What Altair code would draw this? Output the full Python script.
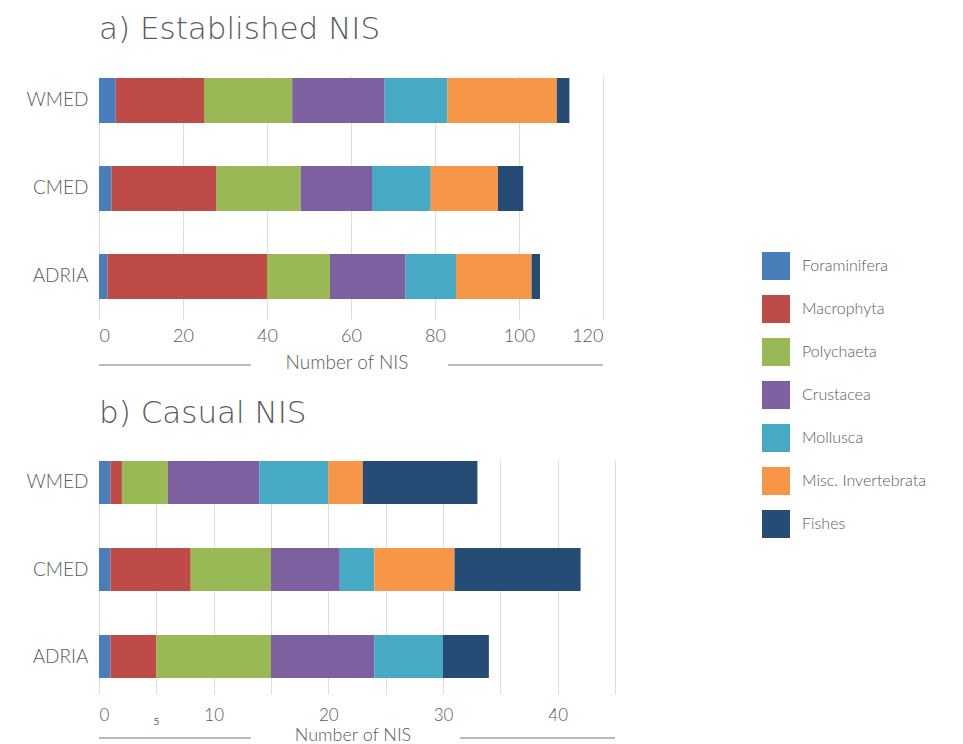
import altair as alt
import pandas as pd

regions = ["WMED", "CMED", "ADRIA"]
groups = ["Foraminifera", "Macrophyta", "Polychaeta", "Crustacea",
          "Mollusca", "Misc. Invertebrata", "Fishes"]
colors = ["#4a7ebb", "#be4b48", "#98b954", "#7d60a0", "#46aac5", "#f79646", "#254c75"]

# a) Established NIS (values per group, in the order of `groups`)
est_wmed = [4, 21, 21, 22, 15, 26, 3]
est_cmed = [3, 25, 20, 17, 14, 16, 6]
est_adria = [2, 38, 15, 18, 12, 18, 2]

# b) Casual NIS
cas_wmed = [1, 1, 4, 8, 6, 3, 10]
cas_cmed = [1, 7, 7, 6, 3, 7, 11]
cas_adria = [1, 4, 10, 9, 6, 0, 4]

est_ticks = [0, 20, 40, 60, 80, 100, 120]
cas_ticks = [0, 5, 10, 15, 20, 25, 30, 35, 40, 45]

FONT = "Lato"
TFONT = "DejaVu Sans"
GREY = "#5a5a5a"


def make_df(series):
    rows = []
    for reg, vals in series.items():
        for i, (g, v) in enumerate(zip(groups, vals)):
            rows.append({"region": reg, "group": g, "value": v, "order": i})
    return pd.DataFrame(rows)


def panel(df, title, xmax, ticks, label_expr, width, height,
          pi, po, align, label_pad, label_size, title_gap, title_size, extra=None):
    bars = alt.Chart(df).mark_bar().encode(
        x=alt.X("value:Q", stack="zero",
                scale=alt.Scale(domain=[0, xmax], nice=False, zero=True),
                axis=alt.Axis(values=ticks, labelExpr=label_expr, title=None,
                              domain=False, ticks=True, tickColor="#dddddd",
                              tickSize=6, gridColor="#dddddd", grid=True,
                              labelFont=FONT, labelFontSize=label_size,
                              labelFontWeight=300,
                              labelColor=GREY, labelPadding=label_pad)),
        y=alt.Y("region:N", sort=regions, title=None,
                scale=alt.Scale(paddingInner=pi, paddingOuter=po, align=align),
                axis=alt.Axis(domain=False, ticks=False, grid=False,
                              labelFont=FONT, labelFontSize=19, labelFontWeight=300,
                              labelColor=GREY, labelPadding=11)),
        color=alt.Color("group:N", sort=groups,
                        scale=alt.Scale(domain=groups, range=colors),
                        legend=alt.Legend(title=None)),
        order=alt.Order("order:Q"),
    )
    one = pd.DataFrame({"t": ["Number of NIS"]})
    ytitle = height + title_gap
    txt = alt.Chart(one).mark_text(font=FONT, fontSize=title_size, fontWeight=300,
                                   color=GREY, baseline="middle").encode(
        x=alt.value(width / 2 - 4), y=alt.value(ytitle), text="t:N")
    left_line = alt.Chart(one).mark_rule(color="#777777", strokeWidth=1).encode(
        x=alt.value(0), x2=alt.value(152), y=alt.value(ytitle + 2))
    right_line = alt.Chart(one).mark_rule(color="#777777", strokeWidth=1).encode(
        x=alt.value(width - 155), x2=alt.value(width), y=alt.value(ytitle + 2))
    layers = [bars, txt, left_line, right_line]
    if extra is not None:
        layers.append(extra)
    return alt.layer(*layers).properties(
        width=width, height=height,
        title=alt.TitleParams(title, anchor="start", frame="group", font=TFONT,
                              fontSize=31, fontWeight=200, color=GREY, offset=30),
    )


df_est = make_df({"WMED": est_wmed, "CMED": est_cmed, "ADRIA": est_adria})
df_cas = make_df({"WMED": cas_wmed, "CMED": cas_cmed, "ADRIA": cas_adria})

five = alt.Chart(pd.DataFrame({"t": ["5"]})).mark_text(
    font=FONT, fontSize=10, color=GREY).encode(
    x=alt.datum(5), y=alt.value(228 + 34), text="t:N")

top = panel(df_est, "a) Established NIS", 120, est_ticks, "datum.label",
            504, 237, 0.489, 0.091, 0.125, 8, 18, 50, 19)
bottom = panel(df_cas, "b) Casual NIS", 45, cas_ticks,
               "datum.value % 10 == 0 ? datum.label : ''", 516, 228,
               0.506, 0.063, 0.09, 13, 17, 48, 18, extra=five)

chart = alt.vconcat(top, bottom, spacing=25).properties(
    padding={"left": 25, "top": 14, "right": 5, "bottom": 0},
    background="white",
).configure_view(stroke=None).configure_legend(
    orient="none", legendX=663, legendY=176,
    symbolType="square", symbolSize=784, symbolStrokeWidth=0,
    labelFont=FONT, labelFontSize=16, labelFontWeight=300, labelColor=GREY,
    labelOffset=12, rowPadding=15,
)

chart.save("out.html", embed_options={"renderer": "svg", "actions": False})
